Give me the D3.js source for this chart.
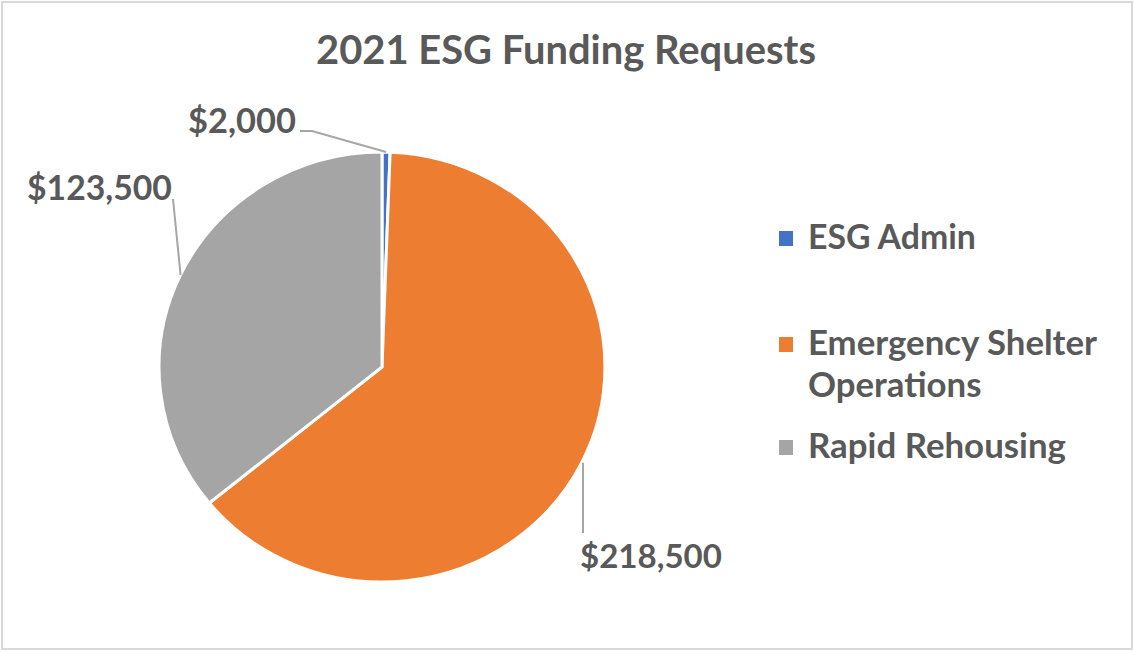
<!DOCTYPE html>
<html>
<head>
<meta charset="utf-8">
<script src="https://cdn.jsdelivr.net/npm/d3@7"></script>
<style>
  html, body { margin: 0; padding: 0; background: #fff; }
  svg { display: block; }
  text { font-family: Lato, "Open Sans", "Liberation Sans", sans-serif; font-weight: 700; fill: #595959; }
</style>
</head>
<body>
<svg id="chart" width="1134" height="652"></svg>
<script>
// ---- data ----
const title = "2021 ESG Funding Requests";
const categories = ["ESG Admin", "Emergency Shelter Operations", "Rapid Rehousing"];
const legendLines = [["ESG Admin"], ["Emergency Shelter", "Operations"], ["Rapid Rehousing"]];
const values = [2000, 218500, 123500];
const colors = ["#4472c4", "#ed7d31", "#a5a5a5"];

// ---- layout ----
const W = 1134, H = 652;
const cx = 382, cy = 367, r = 215, sx = 1.037;
const svg = d3.select("#chart");

svg.append("rect").attr("x", 2).attr("y", 2).attr("width", W - 4).attr("height", H - 5)
  .attr("fill", "#fff").attr("stroke", "#d9d9d9").attr("stroke-width", 2);

function fitText(sel, targetWidth, startSize) {
  sel.style("font-size", startSize + "px");
  const w = sel.node().getComputedTextLength();
  sel.style("font-size", (startSize * targetWidth / w) + "px");
}

// title
const t = svg.append("text").attr("x", 566).attr("y", 64).attr("text-anchor", "middle").text(title);
fitText(t, 500, 36);

// pie
const pie = d3.pie().sort(null).value(d => d)(values);
const arc = d3.arc().innerRadius(0).outerRadius(r);
const g = svg.append("g").attr("transform", `translate(${cx},${cy}) scale(${sx},1)`);
g.selectAll("path").data(pie).join("path")
  .attr("d", arc)
  .attr("fill", (d, i) => colors[i])
  .attr("stroke", "#fff")
  .attr("stroke-width", 3)
  .attr("vector-effect", "non-scaling-stroke");

const fmt = d3.format("$,");
function edgePoint(d) {
  const a = (d.startAngle + d.endAngle) / 2;
  return [cx + sx * r * Math.sin(a), cy - r * Math.cos(a)];
}

// label layout: leader points (relative to edge point target) and text positions
const labelLayout = [
  { pts: [[312, 131], [300, 131]], tx: 188, ty: 133, w: 108 },
  { pts: [[583, 533]], tx: 580, ty: 568, w: 142 },
  { pts: [[173, 199]], tx: 27, ty: 200, w: 145 }
];
pie.forEach((d, i) => {
  const L = labelLayout[i];
  const p0 = edgePoint(d);
  if (i === 1) p0[0] = L.pts[0][0];
  const pts = [p0].concat(L.pts);
  svg.append("path").attr("d", d3.line()(pts))
    .attr("fill", "none").attr("stroke", "#a6a6a6").attr("stroke-width", 2);
  const lt = svg.append("text").attr("x", L.tx).attr("y", L.ty).text(fmt(d.data));
  fitText(lt, L.w, 34);
});

// legend
const legendY = [249, 355, 458];
const legendW = [168, 289, 258];
legendLines.forEach((lines, i) => {
  svg.append("rect").attr("x", 779).attr("y", legendY[i] - 18).attr("width", 14).attr("height", 15)
    .attr("fill", colors[i]);
  lines.forEach((s, j) => {
    const lt = svg.append("text").attr("x", 808).attr("y", legendY[i] + j * 42).text(s);
    if (j === 0) fitText(lt, legendW[i], 28);
    else lt.style("font-size", svg.selectAll("text").nodes().slice(-2)[0].style.fontSize);
  });
});
</script>
</body>
</html>
